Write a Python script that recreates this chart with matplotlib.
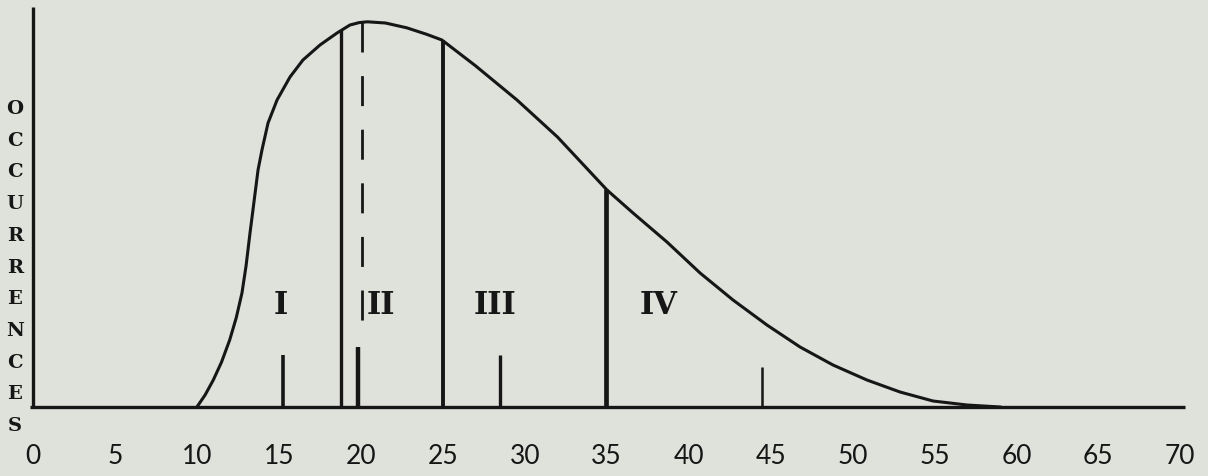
import matplotlib
matplotlib.use("Agg")
import matplotlib.pyplot as plt

plt.rcParams['lines.scale_dashes'] = False

# ---- data ----
curve_x = [10.0, 10.5, 11.0, 11.5, 12.0, 12.4, 12.75, 13.0, 13.24, 13.42, 13.73,
           13.97, 14.34, 14.89, 15.68, 16.47, 17.51, 18.55, 19.34, 19.9, 20.4,
           21.5, 22.8, 24.0, 24.95, 27.0, 29.53, 32.0, 35.02, 36.61, 38.68,
           40.70, 42.71, 44.78, 46.80, 48.81, 50.88, 52.90, 54.91, 56.99, 59.0]
curve_y = [0.0, 3.0, 6.75, 11.2, 16.75, 22.3, 28.5, 35.3, 43.5, 49.25, 59.25,
           64.25, 71.0, 76.75, 82.5, 86.75, 90.5, 93.5, 95.5, 96.1, 96.3,
           96.0, 94.8, 93.2, 91.75, 85.3, 76.75, 67.5, 54.25, 48.5, 41.25,
           33.5, 26.75, 20.5, 15.0, 10.5, 6.75, 3.75, 1.5, 0.5, 0.0]

solid_lines_x = [18.8, 25.0, 34.95]
solid_lines_top = [94.25, 91.75, 54.5]
dashed_line_x = 20.1
dashed_line_top = 96.25
dashed_line_bottom = 18.5

small_ticks_x = [15.25, 19.8, 28.5, 44.5]
small_ticks_h = [13.0, 15.0, 13.0, 10.0]

region_labels = ["I", "II", "III", "IV"]
region_x = [15.1, 21.2, 28.2, 38.2]
region_y = 25.5

xtick_values = [0, 5, 10, 15, 20, 25, 30, 35, 40, 45, 50, 55, 60, 65, 70]
ylabel_text = "OCCURRENCES"

# ---- figure ----
bg = '#dfe1db'
ink = '#161616'
W, H = 1208, 476
fig = plt.figure(figsize=(W / 100, H / 100), dpi=100, facecolor=bg)
ax = fig.add_axes([0, 0, 1, 1])
ax.set_facecolor(bg)
ppu_x = 16.39
x0_px = 33
ax.set_xlim(-x0_px / ppu_x, (W - x0_px) / ppu_x)
ax.set_ylim(-(H - 407) / 4.0, 407 / 4.0)
ax.axis('off')

# axes lines
ax.plot([-0.2, 70.3], [0, 0], color=ink, lw=2.4, solid_capstyle='butt')
ax.plot([0, 0], [0, 100], color=ink, lw=2.4, solid_capstyle='butt')

# curve
ax.plot(curve_x, curve_y, color=ink, lw=2.2, solid_joinstyle='round')

# vertical partition lines
for x, top, lw in zip(solid_lines_x, solid_lines_top, [2.4, 2.8, 3.4]):
    ax.plot([x, x], [0, top], color=ink, lw=lw, solid_capstyle='butt')
ax.plot([dashed_line_x, dashed_line_x], [dashed_line_top, dashed_line_bottom],
        color=ink, lw=2.0, dashes=(21.6, 17.0))

# small ticks
for x, h, lw in zip(small_ticks_x, small_ticks_h, [2.6, 3.2, 2.4, 1.8]):
    ax.plot([x, x], [0, h], color=ink, lw=lw, solid_capstyle='butt')

# region labels
for lab, x in zip(region_labels, region_x):
    ax.text(x, region_y, lab, ha='center', va='center', fontsize=22,
            family='DejaVu Serif', fontweight='bold', color=ink)

# x tick labels
for v in xtick_values:
    ax.text(v, -12.5, str(v), ha='center', va='center', fontsize=19,
            family='Lato', color=ink)

# y label stacked letters
ax.text(-1.1, 76.75, "\n".join(ylabel_text), ha='center', va='top', fontsize=14,
        family='DejaVu Serif', fontweight='bold', color=ink, linespacing=1.98)

fig.savefig('out.png', dpi=100, facecolor=bg)
